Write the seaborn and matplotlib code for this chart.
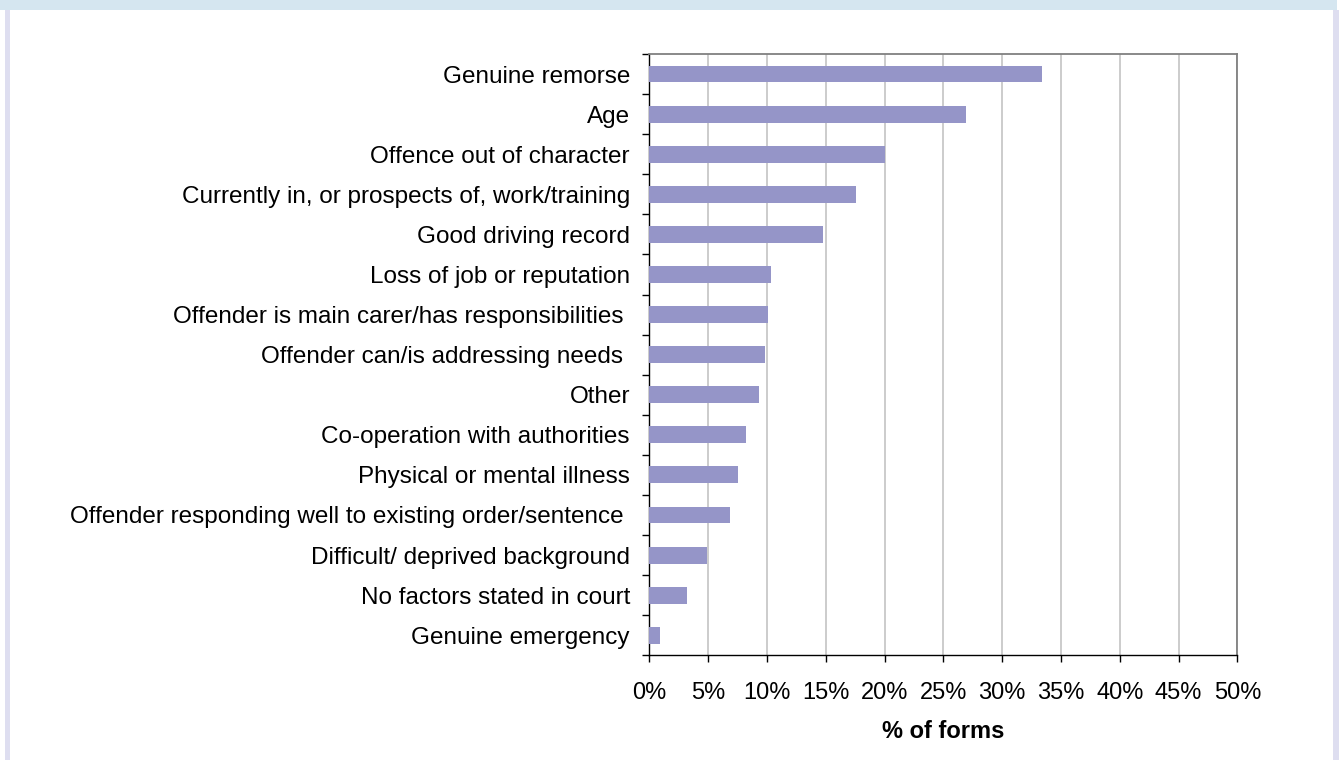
import matplotlib
matplotlib.use("Agg")
import matplotlib.pyplot as plt
from matplotlib.patches import Rectangle
from matplotlib.ticker import FixedLocator, FuncFormatter
import seaborn as sns
import pandas as pd

# Mitigating factors recorded on the forms, in display order
factors = [
    "Genuine remorse",
    "Age",
    "Offence out of character",
    "Currently in, or prospects of, work/training",
    "Good driving record",
    "Loss of job or reputation",
    "Offender is main carer/has responsibilities ",
    "Offender can/is addressing needs ",
    "Other",
    "Co-operation with authorities",
    "Physical or mental illness",
    "Offender responding well to existing order/sentence ",
    "Difficult/ deprived background",
    "No factors stated in court",
    "Genuine emergency",
]
pct_forms = [33.4, 26.9, 20.0, 17.6, 14.8, 10.35, 10.1, 9.85, 9.35, 8.2, 7.55, 6.85, 4.9, 3.2, 0.9]
x_ticks = [0, 5, 10, 15, 20, 25, 30, 35, 40, 45, 50]

df = pd.DataFrame({"factor": factors, "pct": pct_forms})

sns.set_theme(style="white")
plt.rcParams["font.family"] = ["Liberation Sans", "DejaVu Sans"]

W, H = 1341, 760
fig = plt.figure(figsize=(W / 100, H / 100), dpi=100, facecolor="white")

# Decorative page frame: blue band on top, lavender strips on the sides
fig.patches.append(Rectangle((0, 1 - 9.5 / H), 1337 / W, 9.5 / H,
                             transform=fig.transFigure, facecolor="#D5E6F0",
                             edgecolor="none", zorder=0))
fig.patches.append(Rectangle((4.5 / W, 0), 5.5 / W, 1 - 9.5 / H,
                             transform=fig.transFigure, facecolor="#DEDEF0",
                             edgecolor="none", zorder=0))
fig.patches.append(Rectangle((1333 / W, 0), 6 / W, 1 - 9.5 / H,
                             transform=fig.transFigure, facecolor="#DEDEF0",
                             edgecolor="none", zorder=0))

ax = fig.add_axes([649.3 / W, 1 - 655.3 / H, 588 / W, 601.3 / H])
ax.set_facecolor("white")

sns.barplot(data=df, x="pct", y="factor", orient="h", color="#9595C8",
            saturation=1, width=0.42, linewidth=0, edgecolor="none",
            ax=ax, zorder=3)

ax.set_xlim(0, 50)
ax.set_ylim(len(factors) - 0.5, -0.5)

# x axis
ax.xaxis.set_major_locator(FixedLocator(x_ticks))
ax.xaxis.set_major_formatter(FuncFormatter(lambda v, p: f"{v:.0f}%"))
ax.tick_params(axis="x", which="major", direction="out", length=5, width=1,
               color="black", pad=14.5, labelsize=17, labelcolor="black",
               bottom=True)
ax.grid(axis="x", color="#C8C8C8", linewidth=1.3, zorder=0)
ax.grid(axis="y", visible=False)
ax.set_axisbelow(True)

# y axis: labels at categories, tick marks at category boundaries
ax.tick_params(axis="y", which="major", length=0, pad=13.9, labelsize=17.5,
               labelcolor="black")
ax.yaxis.set_minor_locator(FixedLocator([i - 0.5 for i in range(len(factors) + 1)]))
ax.tick_params(axis="y", which="minor", direction="out", length=5, width=1,
               color="black", left=True)
ax.set_ylabel("")

ax.set_xlabel("% of forms", fontsize=17, fontweight="bold", va="center",
              color="black")
ax.xaxis.set_label_coords(0.5, (655.3 - 731.5) / 601.3)

for side in ("left", "bottom"):
    ax.spines[side].set_color("black")
    ax.spines[side].set_linewidth(1.0)
for side in ("top", "right"):
    ax.spines[side].set_visible(True)
    ax.spines[side].set_color("#808080")
    ax.spines[side].set_linewidth(1.3)

fig.savefig("out.png", dpi=100, facecolor="white")
